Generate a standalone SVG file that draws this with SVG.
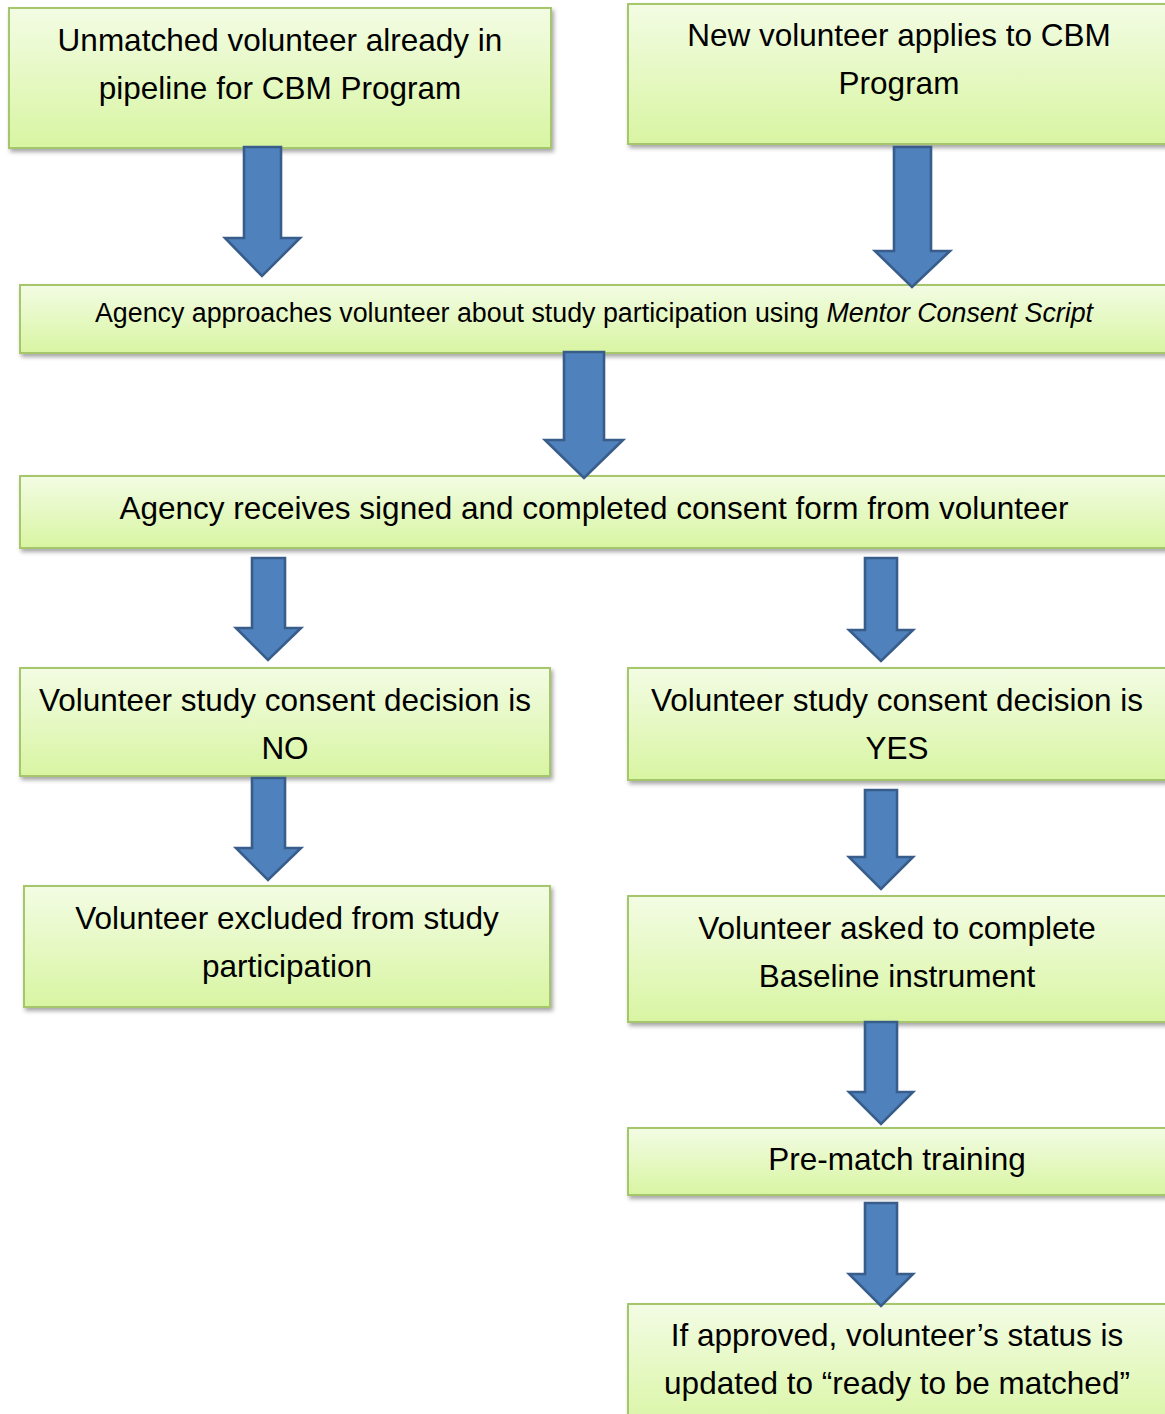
<svg xmlns="http://www.w3.org/2000/svg" width="1165" height="1414" viewBox="0 0 1165 1414">
  <style>
    .box { fill: url(#boxFill); stroke: #a6c66c; stroke-width: 2; filter: url(#shadow); }
    .lbl { font-family: "Liberation Sans", Arial, sans-serif; font-size: 31.5px; fill: #000; text-anchor: middle; }
    .sm { font-size: 26.8px; }
    .arrow { fill: #4f81bd; stroke: #385d8a; stroke-width: 2.6; stroke-linejoin: miter; }
  </style>
  <defs>
    <linearGradient id="boxFill" x1="0" y1="0" x2="0" y2="1">
      <stop offset="0" stop-color="#f3fce4"/>
      <stop offset="1" stop-color="#d8f5a2"/>
    </linearGradient>
    <filter id="shadow" x="-5%" y="-10%" width="115%" height="130%">
      <feDropShadow dx="2" dy="3" stdDeviation="2" flood-color="#000" flood-opacity="0.35"/>
    </filter>
  </defs>
  <rect width="1165" height="1414" fill="#fff"/>

  <g id="n-unmatched">
    <rect class="box" x="9" y="8" width="542" height="140"/>
    <text class="lbl" x="280" y="51">Unmatched volunteer already in</text>
    <text class="lbl" x="280" y="99">pipeline for CBM Program</text>
  </g>
  <g id="n-new">
    <rect class="box" x="628" y="4" width="545" height="140"/>
    <text class="lbl" x="899" y="46">New volunteer applies to CBM</text>
    <text class="lbl" x="899" y="94">Program</text>
  </g>
  <g id="n-approach">
    <rect class="box" x="20" y="285" width="1153" height="68"/>
    <text class="lbl sm" x="594" y="322">Agency approaches volunteer about study participation using <tspan font-style="italic">Mentor Consent Script</tspan></text>
  </g>
  <g id="n-receives">
    <rect class="box" x="20" y="476" width="1153" height="72"/>
    <text class="lbl" x="594" y="519">Agency receives signed and completed consent form from volunteer</text>
  </g>
  <g id="n-no">
    <rect class="box" x="20" y="668" width="530" height="108"/>
    <text class="lbl" x="285" y="711">Volunteer study consent decision is</text>
    <text class="lbl" x="285" y="759">NO</text>
  </g>
  <g id="n-yes">
    <rect class="box" x="628" y="668" width="545" height="112"/>
    <text class="lbl" x="897" y="711">Volunteer study consent decision is</text>
    <text class="lbl" x="897" y="759">YES</text>
  </g>
  <g id="n-excluded">
    <rect class="box" x="24" y="886" width="526" height="121"/>
    <text class="lbl" x="287" y="929">Volunteer excluded from study</text>
    <text class="lbl" x="287" y="977">participation</text>
  </g>
  <g id="n-baseline">
    <rect class="box" x="628" y="896" width="545" height="126"/>
    <text class="lbl" x="897" y="939">Volunteer asked to complete</text>
    <text class="lbl" x="897" y="987">Baseline instrument</text>
  </g>
  <g id="n-training">
    <rect class="box" x="628" y="1128" width="545" height="67"/>
    <text class="lbl" x="897" y="1170">Pre-match training</text>
  </g>
  <g id="n-approved">
    <rect class="box" x="628" y="1304" width="545" height="130"/>
    <text class="lbl" x="897" y="1346">If approved, volunteer’s status is</text>
    <text class="lbl" x="897" y="1394">updated to “ready to be matched”</text>
  </g>

  <g id="connectors">
    <!-- block arrows: shaft, then wide head down to the tip -->
    <path class="arrow" d="M244,147 H281 V238 H300 L262,276 L225,238 H244 Z"/>
    <path class="arrow" d="M894,147 H931 V251 H950 L912,287 L875,251 H894 Z"/>
    <path class="arrow" d="M564,352 H604 V440 H623 L584,478 L545,440 H564 Z"/>
    <path class="arrow" d="M252,558 H285 V628 H301 L268,660 L236,628 H252 Z"/>
    <path class="arrow" d="M865,558 H897 V630 H913 L881,661 L849,630 H865 Z"/>
    <path class="arrow" d="M252,778 H285 V848 H301 L268,880 L236,848 H252 Z"/>
    <path class="arrow" d="M865,790 H897 V857 H913 L881,889 L849,857 H865 Z"/>
    <path class="arrow" d="M865,1022 H897 V1092 H913 L881,1124 L849,1092 H865 Z"/>
    <path class="arrow" d="M865,1203 H897 V1274 H913 L881,1306 L849,1274 H865 Z"/>
  </g>
</svg>
